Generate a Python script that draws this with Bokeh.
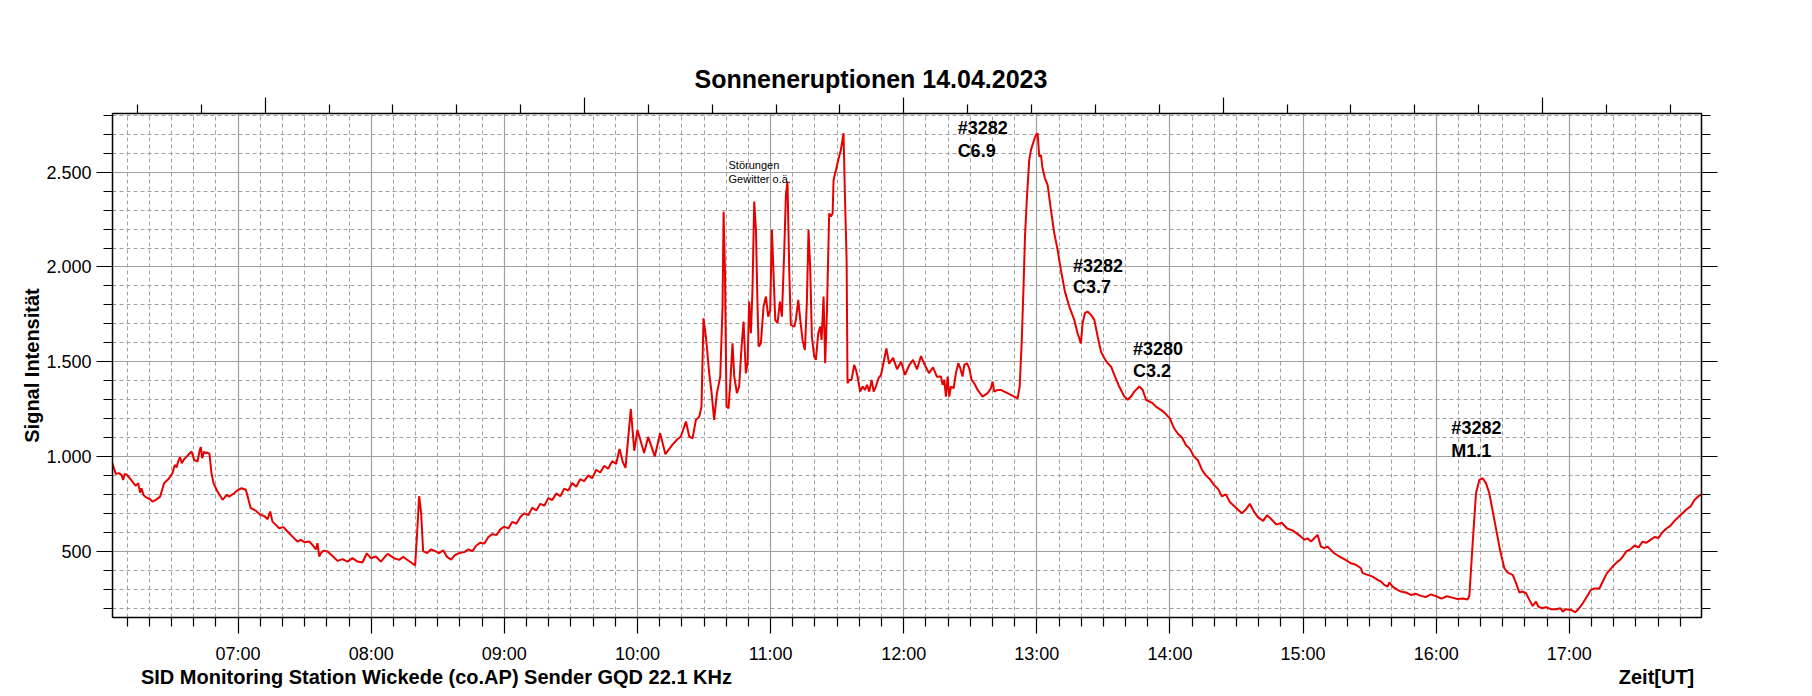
from bokeh.plotting import figure
from bokeh.models import Range1d, LinearAxis, FixedTicker
from bokeh.embed import file_html
from bokeh.resources import INLINE
from bokeh.core.properties import value

TITLE = "Sonneneruptionen 14.04.2023"
Y_LABEL = "Signal Intensität"
X_NOTE = "SID Monitoring Station Wickede (co.AP) Sender GQD 22.1 KHz"
X_UNIT = "Zeit[UT]"

hour_ticks = [7, 8, 9, 10, 11, 12, 13, 14, 15, 16, 17]
hour_labels = ["07:00", "08:00", "09:00", "10:00", "11:00", "12:00",
               "13:00", "14:00", "15:00", "16:00", "17:00"]
y_major = [500, 1000, 1500, 2000, 2500]
y_labels = ["500", "1.000", "1.500", "2.000", "2.500"]

time_h = [
    6.056, 6.069, 6.081, 6.106, 6.124, 6.136, 6.149, 6.164, 6.181, 6.206,
    6.231, 6.249, 6.264, 6.274, 6.289, 6.307, 6.339, 6.357, 6.382, 6.414,
    6.444, 6.482, 6.507, 6.524, 6.539, 6.549, 6.564, 6.577, 6.594, 6.614,
    6.632, 6.650, 6.670, 6.695, 6.712, 6.720, 6.730, 6.745, 6.755, 6.770,
    6.785, 6.800, 6.815, 6.845, 6.883, 6.915, 6.933, 6.970, 7.000, 7.025,
    7.058, 7.075, 7.095, 7.133, 7.166, 7.196, 7.221, 7.241, 7.258, 7.283,
    7.308, 7.341, 7.371, 7.408, 7.446, 7.471, 7.501, 7.534, 7.559, 7.584,
    7.596, 7.609, 7.621, 7.641, 7.672, 7.709, 7.747, 7.784, 7.822, 7.859,
    7.897, 7.934, 7.967, 7.997, 8.035, 8.072, 8.122, 8.172, 8.210,
    8.24, 8.27, 8.30, 8.33, 8.345, 8.36, 8.375, 8.39, 8.42, 8.45,
    8.48, 8.51, 8.54, 8.57, 8.60, 8.63, 8.66,
    8.70, 8.73, 8.76, 8.79, 8.82, 8.85, 8.88, 8.91, 8.94, 8.97,
    9.00, 9.03, 9.06, 9.09, 9.12, 9.15, 9.18, 9.21, 9.24, 9.27,
    9.30, 9.33, 9.36, 9.39, 9.42, 9.45, 9.48, 9.51, 9.54, 9.57,
    9.60, 9.63, 9.66, 9.69, 9.72, 9.75, 9.78, 9.81, 9.84, 9.865,
    9.89, 9.91, 9.950, 9.976, 10.00, 10.05, 10.08, 10.13, 10.17, 10.21,
    10.26, 10.30,
    10.326, 10.364, 10.389, 10.414, 10.439, 10.464, 10.481, 10.496, 10.514, 10.539,
    10.556, 10.576, 10.597, 10.622, 10.639, 10.647, 10.657, 10.669, 10.684, 10.697,
    10.714, 10.727, 10.747, 10.764, 10.782, 10.797, 10.814, 10.827, 10.839, 10.852,
    10.864, 10.877, 10.890, 10.902, 10.910, 10.927, 10.947, 10.965, 10.982, 10.997,
    11.010, 11.022, 11.035, 11.052, 11.070, 11.085, 11.102, 11.115, 11.127, 11.140,
    11.152, 11.178, 11.190, 11.208, 11.223, 11.240, 11.258, 11.273, 11.285, 11.298,
    11.310, 11.328, 11.340, 11.358, 11.373, 11.383, 11.398, 11.410, 11.423, 11.440,
    11.453, 11.466, 11.473, 11.491, 11.508, 11.528, 11.548, 11.558, 11.571, 11.578,
    11.591, 11.608, 11.628, 11.641, 11.653, 11.673, 11.691, 11.709, 11.724, 11.741,
    11.759, 11.774, 11.791, 11.811, 11.829,
    11.85, 11.87, 11.89, 11.92, 11.95, 11.98, 12.01, 12.04, 12.07, 12.10,
    12.13, 12.16, 12.19, 12.22, 12.25,
    12.280, 12.292, 12.305, 12.317, 12.330, 12.342, 12.355, 12.375, 12.392, 12.410,
    12.425, 12.442, 12.455, 12.475, 12.492, 12.510, 12.530, 12.555, 12.593, 12.630,
    12.655, 12.668, 12.680, 12.705, 12.730, 12.755, 12.780, 12.805, 12.830, 12.856,
    12.871, 12.886, 12.901, 12.911, 12.926, 12.943, 12.956, 12.976, 12.993, 13.006,
    13.018, 13.031, 13.043, 13.061, 13.081, 13.106, 13.131, 13.156, 13.181, 13.211,
    13.244, 13.281, 13.306, 13.331, 13.344, 13.361, 13.381, 13.407, 13.432, 13.457,
    13.482, 13.507, 13.532, 13.557, 13.582, 13.619, 13.657, 13.682, 13.707, 13.732,
    13.770, 13.795, 13.820, 13.845, 13.870, 13.895, 13.932,
    13.96, 14.00, 14.03, 14.06, 14.09, 14.12, 14.15, 14.18, 14.21, 14.24,
    14.27, 14.30, 14.33, 14.36, 14.39, 14.42, 14.45, 14.48, 14.51, 14.54,
    14.57, 14.60, 14.63, 14.66, 14.70, 14.73, 14.76, 14.80, 14.84, 14.88,
    14.92, 14.96,
    14.984, 15.009, 15.034, 15.059, 15.084, 15.109, 15.134, 15.159, 15.184, 15.209,
    15.234, 15.272, 15.310, 15.360, 15.397, 15.435, 15.447, 15.485, 15.522, 15.560,
    15.585, 15.610, 15.635, 15.648, 15.673, 15.710, 15.735, 15.773, 15.810, 15.848,
    15.886, 15.92, 15.96, 16.00, 16.04, 16.08, 16.12, 16.16, 16.20, 16.235,
    16.249, 16.274, 16.299, 16.324, 16.349, 16.374, 16.399, 16.437, 16.482,
    16.512, 16.537, 16.575, 16.600, 16.625, 16.650, 16.675, 16.700, 16.725, 16.750,
    16.767, 16.793, 16.825, 16.863, 16.900, 16.933, 16.950, 16.975, 17.013, 17.043,
    17.068, 17.101, 17.133, 17.163, 17.188, 17.226, 17.251, 17.283, 17.326, 17.363,
    17.381, 17.40, 17.43, 17.46, 17.49, 17.52, 17.55, 17.58, 17.61, 17.64,
    17.67, 17.70, 17.73, 17.76, 17.79, 17.82, 17.85, 17.88, 17.91, 17.94,
    17.97, 17.99,
]

signal = [
    964, 933, 908, 912, 903, 876, 908, 903, 890, 867,
    845, 859, 809, 832, 797, 785, 774, 762, 771, 788,
    859, 885, 912, 955, 943, 973, 996, 964, 985, 999,
    1013, 1026, 982, 973, 1035, 1049, 991, 1026, 1017, 1021,
    1013, 912, 859, 815, 771, 797, 788, 806, 824, 832,
    824, 780, 727, 714, 692, 686, 669, 709, 656, 639,
    621, 627, 604, 577, 551, 560, 547, 551, 533, 510,
    542, 472, 489, 503, 498, 475, 449, 458, 445, 463,
    445, 440, 489, 463, 472, 445, 486, 463, 454,
    470, 455, 440, 425, 600, 790, 700, 500, 490, 510,
    500, 490, 505, 470, 455, 480, 490,
    495, 510, 500, 530, 545, 540, 575, 590, 585, 615,
    630, 620, 655, 645, 680, 700, 690, 730, 715, 750,
    740, 780, 770, 805, 790, 830, 820, 860, 840, 880,
    870, 900, 885, 930, 915, 950, 935, 975, 960, 1040,
    970, 940, 1250, 1030, 1140, 1018, 1103, 1000, 1122, 1012,
    1060, 1091,
    1105, 1184, 1105, 1096, 1193, 1210, 1263, 1729, 1633, 1439,
    1342, 1193, 1334, 1422, 1791, 2292, 1984, 1263, 1254, 1386,
    1597, 1422, 1334, 1369, 1580, 1712, 1439, 1492, 1817, 1650,
    1879, 2345, 2196, 1791, 1580, 1597, 1791, 1844, 1738, 1773,
    2196, 1967, 1721, 1703, 1817, 1738, 2072, 2380, 2451, 1984,
    1694, 1685, 1721, 1826, 1721, 1615, 1562, 1826, 2196, 1984,
    1633, 1527, 1510, 1650, 1685, 1615, 1844, 1492, 1756, 2283,
    2266, 2283, 2459, 2512, 2565, 2618, 2706, 2389, 2037, 1386,
    1404, 1404, 1483, 1457, 1422, 1342, 1369, 1351, 1378, 1342,
    1404, 1342, 1369, 1413, 1430,
    1500, 1570, 1490, 1520, 1460, 1500, 1430, 1480, 1510, 1460,
    1530, 1480, 1440, 1470, 1420,
    1422, 1378, 1404, 1316, 1422, 1316, 1369, 1360, 1439, 1492,
    1466, 1422, 1483, 1492, 1466, 1404, 1386, 1351, 1316, 1334,
    1360, 1395, 1342, 1351, 1351, 1342, 1334, 1325, 1316, 1307,
    1369, 1597, 1914, 2160, 2371, 2565, 2618, 2662, 2697, 2706,
    2583, 2591, 2521, 2468, 2433, 2301, 2178, 2090, 1984, 1870,
    1791, 1721, 1650, 1597, 1703, 1756, 1765, 1747, 1721, 1633,
    1553, 1518, 1492, 1475, 1431, 1369, 1316, 1299, 1316, 1342,
    1369, 1351, 1299, 1290, 1281, 1263, 1246,
    1230, 1200, 1150, 1120, 1100, 1060, 1040, 1000, 980, 930,
    900, 880, 850, 830, 790, 800, 760, 740, 720, 700,
    720, 750, 710, 680, 660, 690, 670, 640, 650, 620,
    610, 590,
    577, 560, 568, 551, 568, 586, 524, 516, 524, 507,
    489, 472, 458, 436, 428, 410, 384, 375, 366, 349,
    340, 322, 313, 335, 313, 296, 287, 282, 269, 275,
    264, 258, 272, 262, 250, 262, 255, 248, 250, 245,
    264, 542, 806, 876, 885, 859, 806, 665, 498,
    410, 387, 375, 331, 282, 287, 278, 243, 211, 234,
    208, 199, 204, 194, 194, 199, 181, 194, 190, 178,
    194, 225, 261, 296, 303, 303, 340, 384, 419, 445,
    454, 470, 500, 510, 530, 520, 550, 545, 560, 575,
    570, 600, 620, 635, 660, 680, 700, 720, 735, 770,
    790, 800,
]

flare_x = [12.405, 13.272, 13.722, 16.114]
flare_region = ["#3282", "#3282", "#3280", "#3282"]
flare_region_y = [2734, 2007, 1568, 1149]
flare_class = ["C6.9", "C3.7", "C3.2", "M1.1"]
flare_class_y = [2614, 1893, 1453, 1028]

note_x = [10.684, 10.684]
note_y = [2540, 2466]
note_text = ["Störungen", "Gewitter o.ä."]

# centres (in hours) of the two captions under the time axis
caption_x = [8.49, 17.655]
caption_text = [X_NOTE, X_UNIT]

FONT = "Liberation Sans"
GRID = "#a0a0a0"

x_minor = [6 + k / 6 for k in range(1, 72) if k % 6 != 0]
y_minor = [v for v in range(200, 2900, 100) if v % 500 != 0]
top_major = [2, 7, 12, 17, 22]
top_minor = [k for k in range(0, 25) if k not in top_major]

p = figure(width=1800, height=690, output_backend="svg", toolbar_location=None,
           x_range=Range1d(6.0564, 17.993), y_range=Range1d(150, 2810),
           min_border_left=112, min_border_right=99, min_border_top=113,
           min_border_bottom=72, outline_line_color="black",
           background_fill_color="white", border_fill_color="white")
p.extra_x_ranges = {"top": Range1d(-0.39, 24.489)}

p.title.text = TITLE
p.title.align = "left"
p.title.offset = 582
p.title.text_font = FONT
p.title.text_font_size = "25px"
p.title.text_font_style = "bold"
p.title.text_color = "black"

xticker = FixedTicker(ticks=hour_ticks, minor_ticks=x_minor)
yticker = FixedTicker(ticks=y_major, minor_ticks=y_minor)

xa = p.xaxis[0]
xa.ticker = xticker
xa.major_label_overrides = dict(zip(hour_ticks, hour_labels))
ya = p.yaxis[0]
ya.ticker = yticker
ya.major_label_overrides = dict(zip(y_major, y_labels))
ya.axis_label = Y_LABEL
ya.axis_label_text_font = FONT
ya.axis_label_text_font_size = "20px"
ya.axis_label_text_font_style = "bold"
ya.axis_label_text_color = "black"
ya.axis_label_standoff = 0

right = LinearAxis(ticker=yticker)
top = LinearAxis(x_range_name="top",
                 ticker=FixedTicker(ticks=top_major, minor_ticks=top_minor))
p.add_layout(right, "right")
p.add_layout(top, "above")

for ax in (xa, ya, right, top):
    ax.axis_line_color = "black"
    ax.axis_line_width = 1.5
    ax.major_tick_line_color = "black"
    ax.minor_tick_line_color = "black"
    ax.major_tick_line_width = 1.2
    ax.minor_tick_line_width = 1.2
    ax.major_tick_in = 0
    ax.minor_tick_in = 0
    ax.major_tick_out = 16
    ax.minor_tick_out = 9
    ax.major_label_text_font = FONT
    ax.major_label_text_font_size = "18px"
    ax.major_label_text_color = "black"
for ax in (right, top):
    ax.major_label_text_font_size = "0px"
    ax.major_label_text_color = None
ya.major_label_standoff = 5
xa.major_label_standoff = 10

# caption row under the time axis
cap = LinearAxis(ticker=FixedTicker(ticks=caption_x, minor_ticks=[]),
                 major_label_overrides=dict(zip(caption_x, caption_text)))
cap.axis_line_color = None
cap.major_tick_line_color = None
cap.minor_tick_line_color = None
cap.major_tick_in = 0
cap.major_tick_out = 0
cap.minor_tick_in = 0
cap.minor_tick_out = 0
cap.major_label_standoff = -1
cap.major_label_text_font = FONT
cap.major_label_text_font_size = "20px"
cap.major_label_text_font_style = "bold"
cap.major_label_text_color = "black"
p.add_layout(cap, "below")

p.xgrid.ticker = xticker
p.ygrid.ticker = yticker
for g in (p.xgrid[0], p.ygrid[0]):
    g.grid_line_color = GRID
    g.grid_line_width = 1.2
    g.minor_grid_line_color = GRID
    g.minor_grid_line_width = 1
    g.minor_grid_line_dash = "4 3"

p.line(time_h, signal, line_color="#e80000", line_width=2)

p.text(x=flare_x, y=flare_region_y, text=flare_region, text_font=value(FONT),
       text_font_size="18px", text_font_style="bold", text_color="black",
       text_baseline="alphabetic", text_align="left")
p.text(x=flare_x, y=flare_class_y, text=flare_class, text_font=value(FONT),
       text_font_size="18px", text_font_style="bold", text_color="black",
       text_baseline="alphabetic", text_align="left")
p.text(x=note_x, y=note_y, text=note_text, text_font=value(FONT),
       text_font_size="11px", text_color="black",
       text_baseline="alphabetic", text_align="left")

open("out.html", "w").write(file_html(p, INLINE))
